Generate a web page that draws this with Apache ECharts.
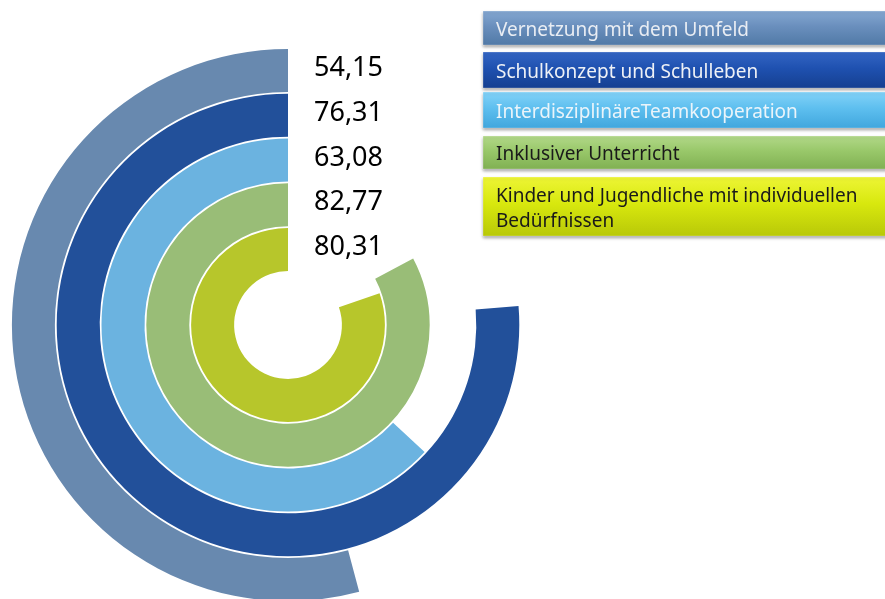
<!DOCTYPE html>
<html>
<head>
<meta charset="utf-8">
<script src="https://cdn.jsdelivr.net/npm/echarts@6/dist/echarts.min.js"></script>
<style>
  html, body { margin: 0; padding: 0; background: #fff; }
  #chart { width: 885px; height: 599px; }
</style>
</head>
<body>
<div id="chart"></div>
<script>
// rings from inside to outside
var categories = [
    'Kinder und Jugendliche mit individuellen\nBedürfnissen',
    'Inklusiver Unterricht',
    'InterdisziplinäreTeamkooperation',
    'Schulkonzept und Schulleben',
    'Vernetzung mit dem Umfeld'
];
var values = [80.31, 82.77, 63.08, 76.31, 54.15];
var ringColors = ['#b7c62b', '#99bd77', '#6bb3e0', '#22509a', '#6889af'];

// legend order (top to bottom) and box styling
var legendNames = [
    'Vernetzung mit dem Umfeld',
    'Schulkonzept und Schulleben',
    'InterdisziplinäreTeamkooperation',
    'Inklusiver Unterricht',
    'Kinder und Jugendliche mit individuellen\nBedürfnissen'
];
var legendTop = [11, 52, 92, 136, 177];
var legendHeight = [34, 36, 36, 33, 59];
var legendGrad = [
    ['#85a8d2', '#6a8fbd', '#5079a6'],
    ['#3466c4', '#1f51b0', '#153f90'],
    ['#84d3f8', '#5ebfef', '#40a6dd'],
    ['#b3d98a', '#99c86a', '#80b052'],
    ['#eef536', '#d8e80e', '#b8c808']
];
var legendText = ['#e9edf3', '#eef1f6', '#eaf4fa', '#1a1a1a', '#1a1a1a'];

var myChart = echarts.init(document.getElementById('chart'));

var legendGraphics = [];
for (var i = 0; i < legendNames.length; i++) {
    legendGraphics.push({
        type: 'rect',
        shape: {x: 483, y: legendTop[i], width: 410, height: legendHeight[i]},
        style: {
            fill: new echarts.graphic.LinearGradient(0, 0, 0, 1, [
                {offset: 0, color: legendGrad[i][0]},
                {offset: 0.45, color: legendGrad[i][1]},
                {offset: 1, color: legendGrad[i][2]}
            ]),
            stroke: 'rgba(255,255,255,0.25)',
            lineWidth: 1,
            shadowBlur: 3,
            shadowOffsetY: 2,
            shadowColor: 'rgba(0,0,0,0.35)'
        }
    });
    legendGraphics.push({
        type: 'text',
        x: 496,
        y: legendTop[i] + (i == 4 ? 7 : legendHeight[i] / 2 - 10),
        style: {
            text: legendNames[i],
            fill: legendText[i],
            font: '19px "Noto Sans"',
            lineHeight: 25
        }
    });
}

var option = {
    animation: false,
    polar: {
        center: [288, 325],
        radius: [53, 277]
    },
    angleAxis: {
        type: 'value',
        min: 0,
        max: 100,
        startAngle: 90,
        clockwise: false,
        show: false
    },
    radiusAxis: {
        type: 'category',
        data: categories,
        show: false
    },
    series: [{
        type: 'bar',
        coordinateSystem: 'polar',
        barCategoryGap: '4%',
        data: values.map(function (v, i) {
            return {value: v, itemStyle: {color: ringColors[i]}};
        })
    }, {
        // value labels at the start of each ring
        type: 'scatter',
        coordinateSystem: 'polar',
        symbolSize: 0,
        silent: true,
        itemStyle: {opacity: 1},
        data: values.map(function (v, i) {
            return [i, 0, v];
        }),
        label: {
            show: true,
            position: 'right',
            distance: 26,
            offset: [0, -2],
            color: '#000',
            fontSize: 27,
            fontFamily: 'Noto Sans',
            formatter: function (p) {
                return p.value[2].toFixed(2).replace('.', ',');
            }
        }
    }],
    graphic: legendGraphics
};
myChart.setOption(option);
</script>
</body>
</html>
